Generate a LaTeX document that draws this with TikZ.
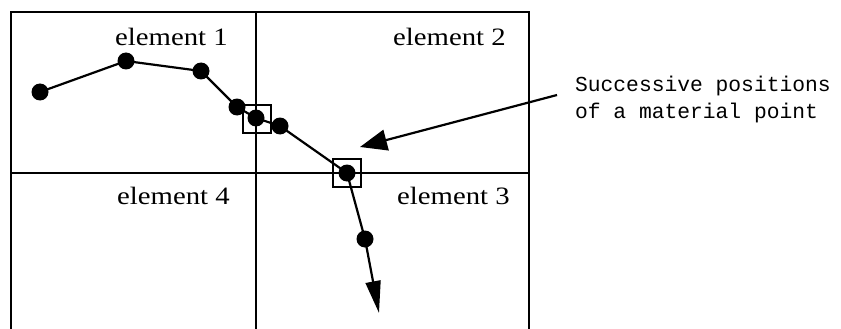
\documentclass[tikz,border=0pt]{standalone}
\usepackage{fontspec}
\setmainfont{Liberation Serif}
\newfontfamily\notefont{Liberation Mono}
\usetikzlibrary{arrows.meta}
\begin{document}
\begin{tikzpicture}[x=1pt,y=-1pt,line width=2.2pt,
  dot/.style={circle,fill=black,draw=none,minimum size=17pt,inner sep=0pt},
  sq/.style={draw=black,line width=2pt,minimum size=28pt,inner sep=0pt,fill=none},
  elabel/.style={anchor=base east,inner sep=0pt,font=\fontsize{25}{28}\selectfont,xscale=1.15},
  note/.style={anchor=west,inner sep=0pt,align=left,font=\notefont\fontsize{21.3}{27}\selectfont}]
\useasboundingbox (0,0) rectangle (841,329);
% grid
\draw (11,329) -- (11,12) -- (529,12) -- (529,329);
\draw (256,12) -- (256,329);
\draw (11,173) -- (529,173);
% labels
\node[elabel] (e1) at (229,46) {element 1};
\node[elabel] (e2) at (507,46) {element 2};
\node[elabel] (e4) at (231,204) {element 4};
\node[elabel] (e3) at (511,204) {element 3};
% squares
\node[sq] (s1) at (257,119) {};
\node[sq] (s2) at (347,173) {};
% dots
\node[dot] (p1) at (40,92) {};
\node[dot] (p2) at (126,61) {};
\node[dot] (p3) at (201,71) {};
\node[dot] (p4) at (237,107) {};
\node[dot] (p5) at (256,118) {};
\node[dot] (p6) at (280,126) {};
\node[dot] (p7) at (347,173) {};
\node[dot] (p8) at (365,239) {};
\coordinate (tip) at (379,313);
\draw (p1.center) -- (p2.center) -- (p3.center) -- (p4.center) -- (p5.center) -- (p6.center) -- (p7.center) -- (p8.center);
\draw[-{Triangle[length=32pt,width=15pt]}] (p8.center) -- (tip);
% note
\node[note] (note) at (574,99) {Successive positions\\of a material point};
\coordinate (ptrstart) at (557,95);
\coordinate (ptrtip) at (360,147);
\draw[-{Triangle[length=27pt,width=21pt]}] (ptrstart) -- (ptrtip);
\end{tikzpicture}
\end{document}
